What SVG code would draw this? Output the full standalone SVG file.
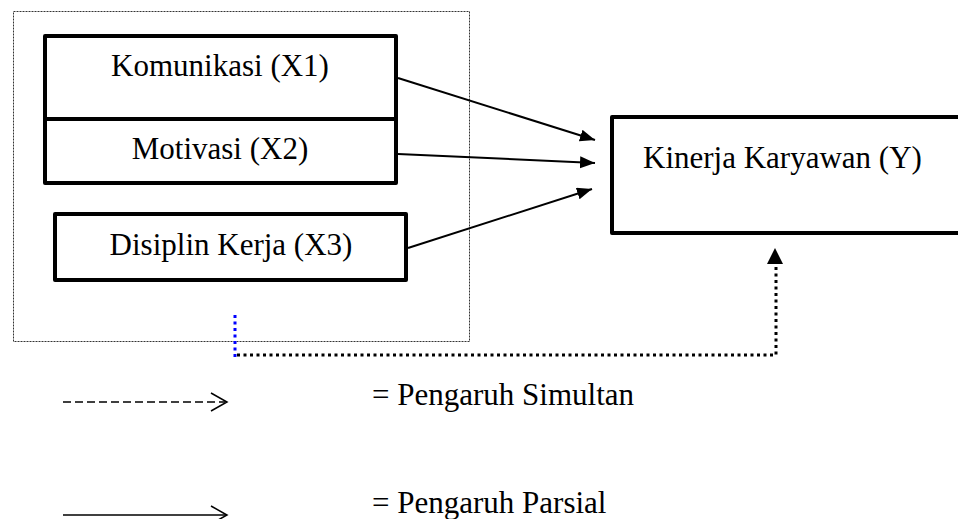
<svg xmlns="http://www.w3.org/2000/svg" width="958" height="519" viewBox="0 0 958 519">
<style>
.box{fill:#fff;stroke:#000;stroke-width:4;stroke-linejoin:round}
.t{font-family:"Liberation Serif","Times New Roman",serif;font-size:31px;fill:#000}
.arr{stroke:#000;stroke-width:2;fill:none}
.dot{stroke:#000;stroke-width:3;fill:none;stroke-dasharray:3 3.5}
</style>
<defs>
<marker id="ah" markerUnits="userSpaceOnUse" markerWidth="16" markerHeight="13" refX="15" refY="6" orient="auto">
<path d="M0,0 L15,6 L0,12 z" fill="#000"/>
</marker>
</defs>
<rect x="13.5" y="11.5" width="456" height="330" fill="none" stroke="#333" stroke-width="1" stroke-dasharray="2 1"/>
<g id="x1">
<rect class="box" x="45" y="36" width="351" height="83"/>
<text class="t" x="220" y="76" text-anchor="middle">Komunikasi (X1)</text>
</g>
<g id="x2">
<rect class="box" x="45" y="119" width="351" height="64"/>
<text class="t" x="220" y="159" text-anchor="middle">Motivasi (X2)</text>
</g>
<g id="x3">
<rect class="box" x="55" y="214" width="351" height="66"/>
<text class="t" x="231" y="255" text-anchor="middle">Disiplin Kerja (X3)</text>
</g>
<g id="y">
<rect class="box" x="612" y="117" width="360" height="116"/>
<text class="t" x="643" y="168">Kinerja Karyawan (Y)</text>
</g>
<g id="connectors">
<line class="arr" x1="398" y1="78" x2="595" y2="140" marker-end="url(#ah)"/>
<line class="arr" x1="398" y1="154" x2="595" y2="163" marker-end="url(#ah)"/>
<line class="arr" x1="408" y1="248" x2="592" y2="189" marker-end="url(#ah)"/>
<path d="M235,315 V357" stroke="#0000ff" stroke-width="3" stroke-dasharray="3 3.5" fill="none"/>
<path class="dot" d="M237,355 H776 V262"/>
<polygon points="775,248 767,264 783,264" fill="#000"/>
</g>
<g id="legend">
<path d="M63,402 H225" stroke="#000" stroke-width="1.3" stroke-dasharray="8 4" fill="none"/>
<polyline points="211,393 227,402 211,411" stroke="#000" stroke-width="1.5" fill="none"/>
<text class="t" x="372" y="405">= Pengaruh Simultan</text>
<path d="M63,515 H226" stroke="#000" stroke-width="1.5" fill="none"/>
<polyline points="211,506 227,515 211,524" stroke="#000" stroke-width="1.5" fill="none"/>
<text class="t" x="372" y="513">= Pengaruh Parsial</text>
</g>
</svg>
